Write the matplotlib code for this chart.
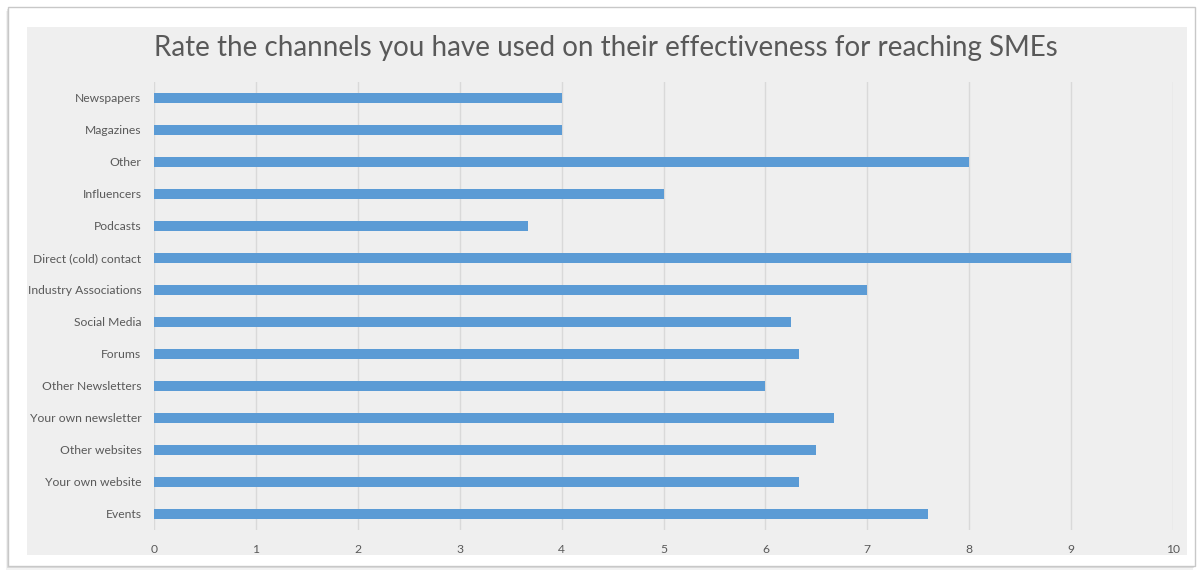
import matplotlib
matplotlib.use("Agg")
import matplotlib.pyplot as plt
from matplotlib.patches import Rectangle

categories = ["Events", "Your own website", "Other websites", "Your own newsletter",
              "Other Newsletters", "Forums", "Social Media", "Industry Associations",
              "Direct (cold) contact", "Podcasts", "Influencers", "Other",
              "Magazines", "Newspapers"]
values = [7.6, 6.33, 6.5, 6.67, 6.0, 6.33, 6.25, 7.0, 9.0, 3.67, 5.0, 8.0, 4.0, 4.0]
xticks = list(range(0, 11))
title = "Rate the channels you have used on their effectiveness for reaching SMEs"

W, H = 1204, 571
fig = plt.figure(figsize=(W / 100, H / 100), dpi=100)
fig.patch.set_facecolor("white")

def fx(px):
    return px / W

def fy(py):
    return 1 - py / H

# card shadow + border
for off, a in [(4, 0.05), (2, 0.09)]:
    fig.patches.append(Rectangle((fx(8 - off / 2), fy(566 + off)), fx(1187), (566 - 7) / H,
                                 transform=fig.transFigure, facecolor="black", alpha=a,
                                 edgecolor="none", zorder=-3))
fig.patches.append(Rectangle((fx(8), fy(566)), fx(1187), (566 - 7) / H,
                             transform=fig.transFigure, facecolor="white",
                             edgecolor="#c8c8c8", linewidth=1, zorder=-2))
# chart area
fig.patches.append(Rectangle((fx(27), fy(555)), fx(1187 - 27), (555 - 27) / H,
                             transform=fig.transFigure, facecolor="#efefef",
                             edgecolor="none", zorder=-1))

ax = fig.add_axes([fx(154), fy(530), fx(1173 - 154), (530 - 82) / H])
ax.set_zorder(5)
ax.set_facecolor("none")
ypos = list(range(len(categories)))
ax.barh(ypos, values, height=0.32, color="#5b9bd5", zorder=3)
ax.set_xlim(0, 10)
ax.set_ylim(-0.5, len(categories) - 0.5)
ax.set_xticks(xticks)
ax.set_xticklabels([str(t) for t in xticks])
ax.set_yticks(ypos)
ax.set_yticklabels(categories)
ax.grid(axis="x", color="#d9d9d9", linewidth=1, zorder=0)
for s in ax.spines.values():
    s.set_visible(False)
ax.tick_params(axis="both", length=0, colors="#595959", labelsize=8.7)
ax.tick_params(axis="x", pad=10)
ax.tick_params(axis="y", pad=9)
for lab in ax.get_xticklabels() + ax.get_yticklabels():
    lab.set_fontfamily("Lato")

fig.text(fx(606), fy(48), title, ha="center", va="center", fontsize=20,
         color="#595959", fontfamily="Lato")

fig.savefig("out.png", dpi=100, facecolor="white")
